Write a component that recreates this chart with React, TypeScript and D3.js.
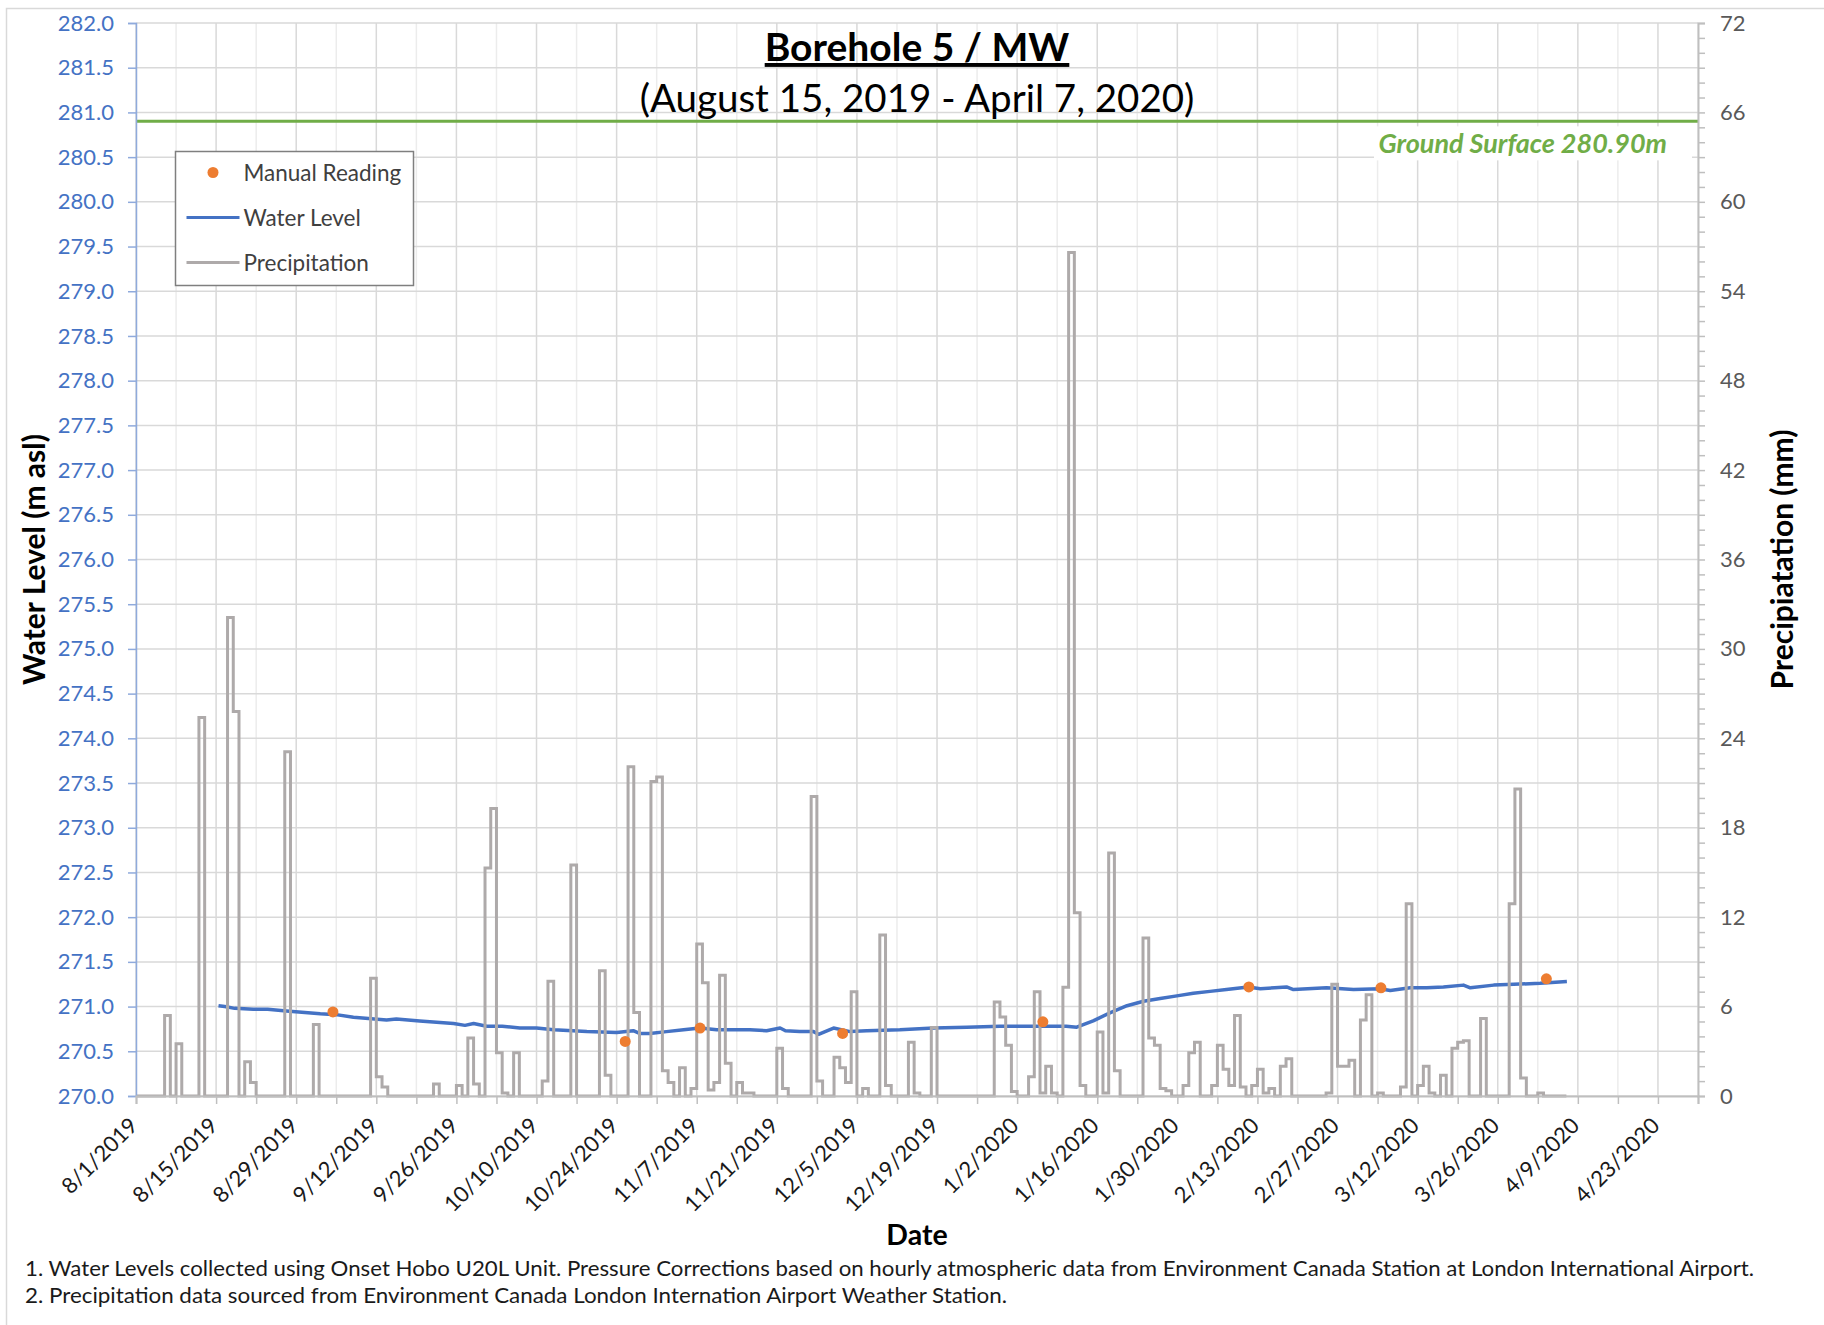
import React, { useEffect, useRef } from "react";
import * as d3 from "d3";

const W = 1824;
const H = 1325;
const plot = { left: 136, right: 1698, top: 23, bottom: 1096 };
const font = "Lato, 'Open Sans', sans-serif";

// x axis runs from 8/1/2019 to 4/30/2020, labelled every 14 days
const xStart = "2019-08-01";
const xEnd = "2020-04-30";
const precipEnd = "2020-04-07";
const xTickLabels = [
	"8/1/2019", "8/15/2019", "8/29/2019", "9/12/2019", "9/26/2019",
	"10/10/2019", "10/24/2019", "11/7/2019", "11/21/2019", "12/5/2019",
	"12/19/2019", "1/2/2020", "1/16/2020", "1/30/2020", "2/13/2020",
	"2/27/2020", "3/12/2020", "3/26/2020", "4/9/2020", "4/23/2020"
];
const levelTicks = [
	270.0, 270.5, 271.0, 271.5, 272.0, 272.5, 273.0, 273.5, 274.0, 274.5,
	275.0, 275.5, 276.0, 276.5, 277.0, 277.5, 278.0, 278.5, 279.0, 279.5,
	280.0, 280.5, 281.0, 281.5, 282.0
];
const precipTicks = [0, 6, 12, 18, 24, 30, 36, 42, 48, 54, 60, 66, 72];
const groundSurface = 280.9;

// daily precipitation (mm), days not listed had none
const precipDays: [string, number][] = [
	["2019-08-06", 5.4], ["2019-08-08", 3.5], ["2019-08-12", 25.4], ["2019-08-17", 32.1],
	["2019-08-18", 25.8], ["2019-08-20", 2.3], ["2019-08-21", 0.9], ["2019-08-27", 23.1],
	["2019-09-01", 4.8], ["2019-09-11", 7.9], ["2019-09-12", 1.3], ["2019-09-13", 0.6],
	["2019-09-22", 0.8], ["2019-09-26", 0.7], ["2019-09-28", 3.9], ["2019-09-29", 0.8],
	["2019-10-01", 15.3], ["2019-10-02", 19.3], ["2019-10-03", 2.9], ["2019-10-04", 0.2],
	["2019-10-06", 2.9], ["2019-10-11", 1.0], ["2019-10-12", 7.7], ["2019-10-16", 15.5],
	["2019-10-21", 8.4], ["2019-10-22", 1.4], ["2019-10-26", 22.1], ["2019-10-27", 5.6],
	["2019-10-30", 21.1], ["2019-10-31", 21.4], ["2019-11-01", 1.7], ["2019-11-02", 0.9],
	["2019-11-04", 1.9], ["2019-11-06", 0.5], ["2019-11-07", 10.2], ["2019-11-08", 7.6],
	["2019-11-09", 0.4], ["2019-11-10", 0.9], ["2019-11-11", 8.1], ["2019-11-12", 2.2],
	["2019-11-14", 0.9], ["2019-11-15", 0.2], ["2019-11-16", 0.2], ["2019-11-21", 3.2],
	["2019-11-22", 0.5], ["2019-11-27", 20.1], ["2019-11-28", 1.0], ["2019-12-01", 2.6],
	["2019-12-02", 1.9], ["2019-12-03", 0.9], ["2019-12-04", 7.0], ["2019-12-06", 0.5],
	["2019-12-09", 10.8], ["2019-12-10", 0.7], ["2019-12-14", 3.6], ["2019-12-15", 0.2],
	["2019-12-18", 4.6], ["2019-12-29", 6.3], ["2019-12-30", 5.3], ["2019-12-31", 3.4],
	["2020-01-01", 0.3], ["2020-01-04", 1.3], ["2020-01-05", 7.0], ["2020-01-06", 0.2],
	["2020-01-07", 2.0], ["2020-01-08", 0.2], ["2020-01-10", 7.3], ["2020-01-11", 56.6],
	["2020-01-12", 12.3], ["2020-01-13", 0.7], ["2020-01-16", 4.3], ["2020-01-17", 0.2],
	["2020-01-18", 16.3], ["2020-01-19", 1.7], ["2020-01-24", 10.6], ["2020-01-25", 3.9],
	["2020-01-26", 3.4], ["2020-01-27", 0.5], ["2020-01-28", 0.35], ["2020-01-31", 0.7],
	["2020-02-01", 2.9], ["2020-02-02", 3.6], ["2020-02-05", 0.7], ["2020-02-06", 3.4],
	["2020-02-07", 1.8], ["2020-02-08", 0.7], ["2020-02-09", 5.4], ["2020-02-10", 0.6],
	["2020-02-12", 0.7], ["2020-02-13", 1.8], ["2020-02-14", 0.2], ["2020-02-15", 0.5],
	["2020-02-17", 2.0], ["2020-02-18", 2.5], ["2020-02-25", 0.2], ["2020-02-26", 7.5],
	["2020-02-27", 2.0], ["2020-02-28", 2.0], ["2020-02-29", 2.4], ["2020-03-02", 5.1],
	["2020-03-03", 6.8], ["2020-03-05", 0.2], ["2020-03-09", 0.6], ["2020-03-10", 12.9],
	["2020-03-12", 0.7], ["2020-03-13", 2.0], ["2020-03-14", 0.2], ["2020-03-16", 1.4],
	["2020-03-18", 3.2], ["2020-03-19", 3.6], ["2020-03-20", 3.7], ["2020-03-23", 5.2],
	["2020-03-28", 12.9], ["2020-03-29", 20.6], ["2020-03-30", 1.2], ["2020-04-02", 0.2]
];

// logger water level (m asl)
const waterLevel: [string, number][] = [
	["2019-08-15 10:00", 271.01], ["2019-08-16 12:00", 271.0], ["2019-08-18 06:00", 270.98],
	["2019-08-21 12:00", 270.97], ["2019-08-24 00:00", 270.97], ["2019-08-27 07:00", 270.95],
	["2019-09-02 05:00", 270.92], ["2019-09-05 00:00", 270.91], ["2019-09-08 00:00", 270.88],
	["2019-09-13 19:00", 270.85], ["2019-09-15 12:00", 270.86], ["2019-09-19 14:00", 270.84],
	["2019-09-25 12:00", 270.81], ["2019-09-27 12:00", 270.79], ["2019-09-29 00:00", 270.81],
	["2019-10-01 07:00", 270.78], ["2019-10-04 00:00", 270.78], ["2019-10-07 02:00", 270.76],
	["2019-10-10 00:00", 270.76], ["2019-10-13 00:00", 270.74], ["2019-10-18 19:00", 270.72],
	["2019-10-24 00:00", 270.71], ["2019-10-26 22:00", 270.73], ["2019-10-28 00:00", 270.7],
	["2019-10-29 19:00", 270.7], ["2019-11-01 17:00", 270.72], ["2019-11-04 17:00", 270.74],
	["2019-11-07 14:00", 270.76], ["2019-11-10 12:00", 270.74], ["2019-11-13 10:00", 270.74],
	["2019-11-16 07:00", 270.74], ["2019-11-19 05:00", 270.73], ["2019-11-21 14:00", 270.76],
	["2019-11-22 12:00", 270.73], ["2019-11-25 00:00", 270.72], ["2019-11-27 10:00", 270.72],
	["2019-11-28 07:00", 270.69], ["2019-11-30 22:00", 270.76], ["2019-12-03 19:00", 270.72],
	["2019-12-06 17:00", 270.73], ["2019-12-12 12:00", 270.74], ["2019-12-18 10:00", 270.76],
	["2019-12-24 05:00", 270.77], ["2019-12-30 00:00", 270.78], ["2020-01-04 19:00", 270.78],
	["2020-01-10 14:00", 270.78], ["2020-01-12 10:00", 270.77], ["2020-01-15 07:00", 270.84],
	["2020-01-18 05:00", 270.93], ["2020-01-21 05:00", 271.01], ["2020-01-24 02:00", 271.06],
	["2020-01-27 00:00", 271.09], ["2020-01-29 22:00", 271.12], ["2020-02-01 19:00", 271.15],
	["2020-02-04 17:00", 271.17], ["2020-02-07 14:00", 271.19], ["2020-02-11 10:00", 271.22],
	["2020-02-13 12:00", 271.2], ["2020-02-16 00:00", 271.21], ["2020-02-18 02:00", 271.22],
	["2020-02-19 07:00", 271.19], ["2020-02-25 02:00", 271.21], ["2020-02-29 19:00", 271.19],
	["2020-03-05 10:00", 271.2], ["2020-03-07 05:00", 271.18], ["2020-03-10 17:00", 271.21],
	["2020-03-13 14:00", 271.21], ["2020-03-16 12:00", 271.22], ["2020-03-20 00:00", 271.24],
	["2020-03-21 05:00", 271.21], ["2020-03-25 07:00", 271.24], ["2020-03-28 19:00", 271.25],
	["2020-04-02 10:00", 271.26], ["2020-04-07 02:00", 271.28]
];

// manual water level readings (m asl)
const manualReadings: [string, number][] = [
	["2019-09-04 10:00", 270.94], ["2019-10-25 12:00", 270.61], ["2019-11-07 14:00", 270.76],
	["2019-12-02 12:00", 270.7], ["2020-01-06 12:00", 270.83], ["2020-02-11 12:00", 271.22],
	["2020-03-05 14:00", 271.21], ["2020-04-03 12:00", 271.31]
];

const footnotes = [
	"1. Water Levels collected using Onset Hobo U20L Unit. Pressure Corrections based on hourly atmospheric data from Environment Canada Station at London International Airport.",
	"2. Precipitation data sourced from Environment Canada London Internation Airport Weather Station."
];

const parseDay = d3.timeParse("%Y-%m-%d");
const parseTime = d3.timeParse("%Y-%m-%d %H:%M");
const parseLabel = d3.timeParse("%m/%d/%Y");

function drawChart(node: SVGSVGElement) {
	const svg = d3.select(node);
	svg.selectAll("*").remove();

	const x = d3
		.scaleTime()
		.domain([parseDay(xStart) as Date, parseDay(xEnd) as Date])
		.range([plot.left, plot.right]);
	const yL = d3.scaleLinear().domain([270, 282]).range([plot.bottom, plot.top]);
	const yR = d3.scaleLinear().domain([0, 72]).range([plot.bottom, plot.top]);

	svg.append("rect").attr("width", W).attr("height", H).attr("fill", "#fff");
	svg.append("rect")
		.attr("x", 6.5).attr("y", 8.5)
		.attr("width", W).attr("height", H)
		.attr("fill", "none").attr("stroke", "#d9d9d9").attr("stroke-width", 1.5);

	//Gridlines: weekly verticals, every other one darker
	const [d0, d1] = x.domain();
	const weeks = d3.timeDay.range(d0, d3.timeDay.offset(d1, 1), 7);
	const grid = svg.append("g");
	grid.selectAll("line.v")
		.data(weeks)
		.join("line")
		.attr("x1", d => x(d)).attr("x2", d => x(d))
		.attr("y1", plot.top).attr("y2", plot.bottom)
		.attr("stroke", (d, i) => (i % 2 === 0 ? "#d9d9d9" : "#ececec"))
		.attr("stroke-width", 1.5);
	grid.selectAll("line.h")
		.data(levelTicks)
		.join("line")
		.attr("x1", plot.left).attr("x2", plot.right)
		.attr("y1", d => yL(d)).attr("y2", d => yL(d))
		.attr("stroke", "#d9d9d9")
		.attr("stroke-width", 1.5);

	//Ground surface line and label
	svg.append("line")
		.attr("x1", plot.left).attr("x2", plot.right)
		.attr("y1", yL(groundSurface)).attr("y2", yL(groundSurface))
		.attr("stroke", "#70ad47").attr("stroke-width", 3);
	svg.append("rect")
		.attr("x", 1374).attr("y", yL(groundSurface) + 5)
		.attr("width", 318).attr("height", 34)
		.attr("fill", "#fff");
	svg.append("text")
		.attr("x", 1667).attr("y", yL(groundSurface) + 32)
		.attr("text-anchor", "end")
		.attr("font-family", font).attr("font-size", 27)
		.attr("font-weight", "bold").attr("font-style", "italic")
		.attr("fill", "#70ad47")
		.text(`Ground Surface ${groundSurface.toFixed(2)}m`);

	//Water level
	const levelLine = d3
		.line<[string, number]>()
		.x(d => x(parseTime(d[0]) as Date))
		.y(d => yL(d[1]));
	svg.append("path")
		.datum(waterLevel)
		.attr("d", levelLine)
		.attr("fill", "none")
		.attr("stroke", "#4472c4")
		.attr("stroke-width", 3.5)
		.attr("stroke-linejoin", "round");

	//Precipitation as a daily step line
	const wet = new Map(precipDays.map(([d, v]) => [d, v]));
	const fmt = d3.timeFormat("%Y-%m-%d");
	const days = d3.timeDay.range(d0, d3.timeDay.offset(parseDay(precipEnd) as Date, 1));
	const precipSeries = days.map(d => ({ date: d, value: wet.get(fmt(d)) ?? 0 }));
	const precipLine = d3
		.line<{ date: Date; value: number }>()
		.x(d => x(d.date))
		.y(d => yR(d.value))
		.curve(d3.curveStepAfter);
	svg.append("path")
		.datum(precipSeries)
		.attr("d", precipLine)
		.attr("fill", "none")
		.attr("stroke", "#aeaaaa")
		.attr("stroke-width", 3);

	//Manual readings
	svg.append("g")
		.selectAll("circle")
		.data(manualReadings)
		.join("circle")
		.attr("cx", d => x(parseTime(d[0]) as Date))
		.attr("cy", d => yL(d[1]))
		.attr("r", 5.5)
		.attr("fill", "#ed7d31");

	//Left axis
	const left = svg.append("g").attr("transform", `translate(${plot.left},0)`);
	left.call(
		d3.axisLeft(yL)
			.tickValues(levelTicks)
			.tickFormat(d => d3.format(".1f")(d as number))
			.tickSize(8)
			.tickPadding(14)
	);
	left.select(".domain").attr("stroke", "#8faadc").attr("stroke-width", 1.5);
	left.selectAll(".tick line").attr("stroke", "#8faadc").attr("stroke-width", 1.5);
	left.selectAll(".tick text")
		.attr("fill", "#4472c4")
		.attr("font-family", font)
		.attr("font-size", 22);

	//Right axis: ticks every mm, labels every 6 mm
	const right = svg.append("g").attr("transform", `translate(${plot.right},0)`);
	right.call(
		d3.axisRight(yR)
			.tickValues(d3.range(0, 73, 1))
			.tickFormat(d => (precipTicks.includes(d as number) ? String(d) : ""))
			.tickSize(7)
			.tickPadding(15)
	);
	right.select(".domain").attr("stroke", "#bfbfbf").attr("stroke-width", 2);
	right.selectAll(".tick line").attr("stroke", "#bfbfbf").attr("stroke-width", 1.5);
	right.selectAll(".tick text")
		.attr("fill", "#595959")
		.attr("font-family", font)
		.attr("font-size", 22);

	//Bottom axis
	const bottom = svg.append("g").attr("transform", `translate(0,${plot.bottom})`);
	bottom.call(d3.axisBottom(x).tickValues(weeks).tickFormat(() => "").tickSize(8));
	bottom.select(".domain").attr("stroke", "#bfbfbf").attr("stroke-width", 2);
	bottom.selectAll(".tick line").attr("stroke", "#bfbfbf").attr("stroke-width", 1.5);
	svg.append("g")
		.selectAll("text")
		.data(xTickLabels)
		.join("text")
		.attr("transform", d => `translate(${x(parseLabel(d) as Date) + 3},${plot.bottom + 31}) rotate(-45)`)
		.attr("text-anchor", "end")
		.attr("font-family", font)
		.attr("font-size", 22)
		.attr("fill", "#1a1a1a")
		.text(d => d);

	//Axis titles
	svg.append("text")
		.attr("transform", `translate(33,${(plot.top + plot.bottom) / 2}) rotate(-90)`)
		.attr("text-anchor", "middle").attr("dominant-baseline", "central")
		.attr("font-family", font).attr("font-size", 30).attr("font-weight", "bold")
		.text("Water Level (m asl)");
	svg.append("text")
		.attr("transform", `translate(1781,${(plot.top + plot.bottom) / 2}) rotate(-90)`)
		.attr("text-anchor", "middle").attr("dominant-baseline", "central")
		.attr("font-family", font).attr("font-size", 30).attr("font-weight", "bold")
		.text("Precipiatation (mm)");
	svg.append("text")
		.attr("x", (plot.left + plot.right) / 2).attr("y", 1245)
		.attr("text-anchor", "middle")
		.attr("font-family", font).attr("font-size", 28.5).attr("font-weight", "bold")
		.text("Date");

	//Title
	svg.append("text")
		.attr("x", (plot.left + plot.right) / 2).attr("y", 61)
		.attr("text-anchor", "middle")
		.attr("font-family", font).attr("font-size", 39).attr("font-weight", "bold")
		.attr("text-decoration", "underline")
		.text("Borehole 5 / MW");
	svg.append("text")
		.attr("x", (plot.left + plot.right) / 2).attr("y", 112)
		.attr("text-anchor", "middle")
		.attr("font-family", font).attr("font-size", 38.5)
		.text("(August 15, 2019 - April 7, 2020)");

	//Legend
	const legend = svg.append("g").attr("transform", "translate(175.5,151.5)");
	legend.append("rect")
		.attr("width", 238).attr("height", 134)
		.attr("fill", "#fff").attr("stroke", "#7f7f7f").attr("stroke-width", 1.5);
	const items = ["Manual Reading", "Water Level", "Precipitation"];
	items.forEach((name, i) => {
		const cy = 21 + i * 45;
		if (i === 0) {
			legend.append("circle").attr("cx", 37.5).attr("cy", cy).attr("r", 5.5).attr("fill", "#ed7d31");
		} else {
			legend.append("line")
				.attr("x1", 11).attr("x2", 64).attr("y1", cy).attr("y2", cy)
				.attr("stroke", i === 1 ? "#4472c4" : "#aeaaaa").attr("stroke-width", 3);
		}
		legend.append("text")
			.attr("x", 68).attr("y", cy)
			.attr("dominant-baseline", "central")
			.attr("font-family", font).attr("font-size", 22.5)
			.attr("fill", "#404040")
			.text(name);
	});

	//Footnotes
	svg.append("g")
		.selectAll("text")
		.data(footnotes)
		.join("text")
		.attr("x", 25)
		.attr("y", (d, i) => 1276 + i * 27)
		.attr("font-family", font)
		.attr("font-size", 22)
		.attr("fill", "#1a1a1a")
		.attr("textLength", (d, i) => (i === 0 ? 1729 : 982))
		.attr("lengthAdjust", "spacingAndGlyphs")
		.text(d => d);
}

export default function App() {
	const ref = useRef<SVGSVGElement>(null);
	useEffect(() => {
		if (ref.current) drawChart(ref.current);
	}, []);
	return (
		<svg
			ref={ref}
			width={W}
			height={H}
			style={{ position: "absolute", left: 0, top: 0, display: "block" }}
		/>
	);
}
